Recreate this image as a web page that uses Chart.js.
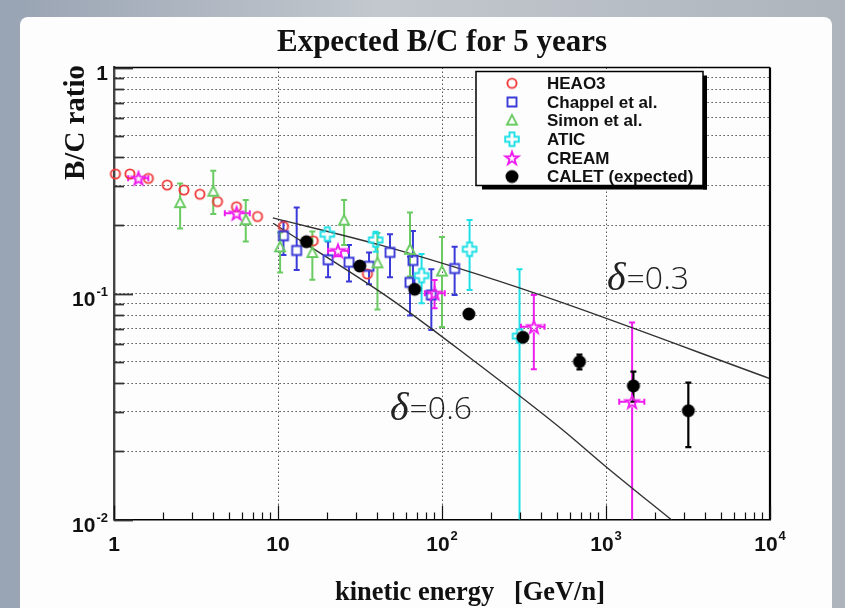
<!DOCTYPE html>
<html><head><meta charset="utf-8">
<script src="https://cdn.jsdelivr.net/npm/chart.js@4/dist/chart.umd.min.js"></script>
<style>html,body{margin:0;padding:0;background:#b6bcc4;}canvas{display:block;}</style>
</head><body>
<canvas id="c" width="845" height="608"></canvas>
<script>
// ---------------- DATA ----------------
const energyHEAO3 = [1.02, 1.25, 1.62, 2.11, 2.67, 3.34, 4.28, 5.58, 7.5, 10.8, 16.4, 35.1];
const ratioHEAO3  = [0.338, 0.338, 0.323, 0.302, 0.287, 0.275, 0.255, 0.242, 0.219, 0.198, 0.171, 0.122];

const energyChappel = [10.8, 13.0, 20.2, 27.1, 35.9, 48.2, 66.5, 63.8, 86.1, 119.4];
const ratioChappel  = [0.180, 0.155, 0.141, 0.1375, 0.132, 0.152, 0.140, 0.112, 0.0985, 0.129];
const lowChappel    = [0.148, 0.127, 0.118, 0.113, 0.110, 0.118, 0.1035, 0.080, 0.069, 0.0985];
const highChappel   = [0.208, 0.240, 0.170, 0.164, 0.152, 0.183, 0.189, 0.1455, 0.128, 0.161];

const energySimon = [2.53, 4.03, 6.36, 10.3, 16.2, 25.3, 40.4, 63.8, 100];
const ratioSimon  = [0.251, 0.282, 0.211, 0.160, 0.151, 0.210, 0.136, 0.156, 0.125];
const lowSimon    = [0.194, 0.225, 0.170, 0.124, 0.115, 0.164, 0.085, 0.119, 0.071];
const highSimon   = [0.307, 0.349, 0.259, 0.186, 0.188, 0.259, 0.185, 0.228, 0.178];

const energyATIC = [20.0, 39.4, 75.1, 147.3, 297];
const ratioATIC  = [0.183, 0.1725, 0.120, 0.157, 0.0648];
const lowATIC    = [0.172, 0.153, 0.0905, 0.1036, 0.001];
const highATIC   = [0.195, 0.1876, 0.1495, 0.2115, 0.128];

const energyCREAM  = [1.41, 5.59, 23.2, 90.1, 363, 1443];
const ratioCREAM   = [0.3235, 0.2264, 0.1546, 0.1002, 0.0713, 0.0332];
const eLowCREAM    = [1.22, 4.74, 20.2, 78.6, 303, 1204];
const eHighCREAM   = [1.62, 6.73, 26.8, 104, 422, 1713];
const lowCREAM     = [0.315, 0.219, 0.146, 0.086, 0.0462, 0.001];
const highCREAM    = [0.332, 0.234, 0.163, 0.1148, 0.0985, 0.0745];

const energyCALET = [14.9, 31.5, 68.1, 145.8, 311, 689, 1469, 3177];
const ratioCALET  = [0.1695, 0.1323, 0.1044, 0.0811, 0.064, 0.0499, 0.039, 0.0303];
const lowCALET    = [null, null, null, null, null, 0.0462, 0.0332, 0.0209];
const highCALET   = [null, null, null, null, null, 0.0536, 0.0451, 0.0403];

const energyDelta03 = [9.3, 41.7, 169.4, 520, 10000];
const ratioDelta03  = [0.216, 0.164, 0.1208, 0.092, 0.042];
const energyDelta06 = [9.34, 48, 154, 545, 1000, 2493, 3162];
const ratioDelta06  = [0.2046, 0.0952, 0.0508, 0.0249, 0.01713, 0.01, 0.0087];

const xTickValues = [1,2,3,4,5,6,7,8,9,10,20,30,40,50,60,70,80,90,100,200,300,400,500,600,700,800,900,
                     1000,2000,3000,4000,5000,6000,7000,8000,9000,10000];
const xGridValues = [1, 10, 100, 1000, 10000];
const yTickValues = [0.01,0.02,0.03,0.04,0.05,0.06,0.07,0.08,0.09,0.1,0.2,0.3,0.4,0.5,0.6,0.7,0.8,0.9,1];
const xLabelValues = [1, 10, 100, 1000, 10000];
const xLabelBase   = ['1', '10', '10', '10', '10'];
const xLabelSup    = ['', '', '2', '3', '4'];
const yLabelValues = [1, 0.1, 0.01];
const yLabelBase   = ['1', '10', '10'];
const yLabelSup    = ['', '-1', '-2'];

const seriesNames = ['HEAO3', 'Chappel et al.', 'Simon et al.', 'ATIC', 'CREAM', 'CALET (expected)'];
const deltaLabels = ['=0.3', '=0.6'];

// ---------------- MARKERS ----------------
function makeMarker(kind, color) {
  const s = 22, c = document.createElement('canvas');
  c.width = s; c.height = s;
  const g = c.getContext('2d'), m = s / 2;
  g.strokeStyle = color; g.fillStyle = color; g.lineWidth = 1.9; g.lineJoin = 'miter';
  g.beginPath();
  if (kind === 'circle') { g.arc(m, m, 4.6, 0, Math.PI * 2); g.stroke(); }
  else if (kind === 'square') { g.rect(m - 4.5, m - 4.5, 9, 9); g.stroke(); }
  else if (kind === 'triangle') { g.moveTo(m, m - 5.6); g.lineTo(m + 5, m + 4); g.lineTo(m - 5, m + 4); g.closePath(); g.stroke(); }
  else if (kind === 'cross') {
    const a = 2.5, L = 6.8;
    const p = [[-a,-L],[a,-L],[a,-a],[L,-a],[L,a],[a,a],[a,L],[-a,L],[-a,a],[-L,a],[-L,-a],[-a,-a]];
    p.forEach((q, i) => i ? g.lineTo(m + q[0], m + q[1]) : g.moveTo(m + q[0], m + q[1]));
    g.closePath(); g.stroke();
  }
  else if (kind === 'star') {
    for (let i = 0; i < 10; i++) {
      const r = i % 2 ? 2.7 : 6.8, ang = -Math.PI / 2 + i * Math.PI / 5;
      const X = m + r * Math.cos(ang), Y = m + 0.6 + r * Math.sin(ang);
      i ? g.lineTo(X, Y) : g.moveTo(X, Y);
    }
    g.closePath(); g.stroke();
  }
  else if (kind === 'dot') { g.arc(m, m, 6.5, 0, Math.PI * 2); g.fill(); }
  return c;
}
const colHEAO3 = '#ef3b3b', colChappel = '#3a3ad8', colSimon = '#6acb62', colATIC = '#1ee0e6', colCREAM = '#ee1cee', colCALET = '#000000';
const markers = [
  makeMarker('circle', colHEAO3), makeMarker('square', colChappel), makeMarker('triangle', colSimon),
  makeMarker('cross', colATIC), makeMarker('star', colCREAM), makeMarker('dot', colCALET)
];

function pts(xa, ya) { return xa.map((x, i) => ({ x: x, y: ya[i] })); }

function markerSet(label, xa, ya, idx, order) {
  return { label: label, data: pts(xa, ya), pointStyle: markers[idx], pointRadius: 5, pointHoverRadius: 5,
           showLine: false, clip: false, order: order, borderColor: 'rgba(0,0,0,0)', backgroundColor: 'rgba(0,0,0,0)' };
}

const errorSets = [
  { ds: 1, color: colChappel, width: 2, gap: 4.5, lo: lowChappel, hi: highChappel },
  { ds: 2, color: colSimon, width: 2, gap: 4.5, lo: lowSimon, hi: highSimon },
  { ds: 3, color: colATIC, width: 2, gap: 6.5, lo: lowATIC, hi: highATIC },
  { ds: 4, color: colCREAM, width: 2, gap: 5.5, lo: lowCREAM, hi: highCREAM, xlo: eLowCREAM, xhi: eHighCREAM },
  { ds: 5, color: colCALET, width: 2.2, gap: 0, lo: lowCALET, hi: highCALET }
];

// ---------------- PLUGINS ----------------
function fitFont(ctx, text, weight, family, targetW) {
  ctx.font = weight + ' 100px ' + family;
  const w = ctx.measureText(text).width;
  return 100 * targetW / w;
}

const bgPlugin = {
  id: 'bg',
  beforeDraw(chart) {
    const ctx = chart.ctx;
    ctx.save();
    const g = ctx.createLinearGradient(0, 0, 845, 0);
    g.addColorStop(0, '#98a3b3'); g.addColorStop(0.45, '#c3c8ce'); g.addColorStop(1, '#aeb4bc');
    ctx.fillStyle = g; ctx.fillRect(0, 0, 845, 608);
    ctx.fillStyle = '#fdfdfd';
    ctx.beginPath();
    if (ctx.roundRect) ctx.roundRect(20, 17, 812, 620, 8); else ctx.rect(20, 17, 812, 620);
    ctx.fill();
    ctx.restore();
  }
};

const errorPlugin = {
  id: 'errbars',
  beforeDatasetsDraw(chart) {
    const ctx = chart.ctx, xs = chart.scales.x, ys = chart.scales.y, a = chart.chartArea;
    ctx.save();
    ctx.beginPath(); ctx.rect(a.left, a.top, a.right - a.left, a.bottom - a.top); ctx.clip();
    errorSets.forEach(s => {
      const data = chart.data.datasets[s.ds].data;
      ctx.strokeStyle = s.color; ctx.lineWidth = s.width;
      const cap = 3;
      data.forEach((p, i) => {
        const px = xs.getPixelForValue(p.x), py = ys.getPixelForValue(p.y);
        ctx.beginPath();
        if (s.hi && s.hi[i] != null) {
          const yt = ys.getPixelForValue(s.hi[i]);
          if (yt < py - s.gap) { ctx.moveTo(px, py - s.gap); ctx.lineTo(px, yt); ctx.moveTo(px - cap, yt); ctx.lineTo(px + cap, yt); }
        }
        if (s.lo && s.lo[i] != null) {
          const yb = Math.min(ys.getPixelForValue(s.lo[i]), a.bottom + 5);
          if (yb > py + s.gap) { ctx.moveTo(px, py + s.gap); ctx.lineTo(px, yb); ctx.moveTo(px - cap, yb); ctx.lineTo(px + cap, yb); }
        }
        if (s.xlo) {
          const xl = xs.getPixelForValue(s.xlo[i]), xr = xs.getPixelForValue(s.xhi[i]);
          ctx.moveTo(px - s.gap, py); ctx.lineTo(xl, py); ctx.moveTo(xl, py - cap); ctx.lineTo(xl, py + cap);
          ctx.moveTo(px + s.gap, py); ctx.lineTo(xr, py); ctx.moveTo(xr, py - cap); ctx.lineTo(xr, py + cap);
        }
        ctx.stroke();
      });
    });
    ctx.restore();
  }
};

const decorPlugin = {
  id: 'decor',
  afterDraw(chart) {
    const ctx = chart.ctx, xs = chart.scales.x, ys = chart.scales.y, a = chart.chartArea;
    ctx.save();
    // frame top & right
    ctx.strokeStyle = '#000'; ctx.lineWidth = 1.6;
    ctx.beginPath(); ctx.moveTo(a.left, a.top); ctx.lineTo(a.right, a.top); ctx.stroke();
    ctx.lineWidth = 2.2;
    ctx.beginPath(); ctx.moveTo(a.right, a.top); ctx.lineTo(a.right, a.bottom); ctx.stroke();
    // x ticks (inward)
    ctx.strokeStyle = '#111'; ctx.lineWidth = 1.2;
    xTickValues.forEach(v => {
      const px = Math.round(xs.getPixelForValue(v)) + 0.5;
      const major = Math.abs(Math.log10(v) - Math.round(Math.log10(v))) < 1e-9;
      ctx.beginPath(); ctx.moveTo(px, a.bottom); ctx.lineTo(px, a.bottom - (major ? 14 : 7)); ctx.stroke();
    });
    // y ticks (inward)
    ctx.strokeStyle = '#333'; ctx.lineWidth = 1.8;
    yTickValues.forEach(v => {
      const py = Math.round(ys.getPixelForValue(v)) + 0.5;
      const major = Math.abs(Math.log10(v) - Math.round(Math.log10(v))) < 1e-9;
      ctx.beginPath(); ctx.moveTo(a.left, py); ctx.lineTo(a.left + (major ? 19 : 10), py); ctx.stroke();
    });
    // tick labels
    const baseFont = 'bold 21px "Liberation Sans", Arial, sans-serif';
    const supFont = 'bold 13px "Liberation Sans", Arial, sans-serif';
    ctx.fillStyle = '#111'; ctx.textBaseline = 'alphabetic';
    xLabelValues.forEach((v, i) => {
      const px = xs.getPixelForValue(v);
      ctx.font = baseFont; const wb = ctx.measureText(xLabelBase[i]).width;
      ctx.font = supFont; const ws = xLabelSup[i] ? ctx.measureText(xLabelSup[i]).width + 1 : 0;
      const x0 = px - (wb + ws) / 2;
      ctx.textAlign = 'left';
      ctx.font = baseFont; ctx.fillText(xLabelBase[i], x0, a.bottom + 31);
      if (xLabelSup[i]) { ctx.font = supFont; ctx.fillText(xLabelSup[i], x0 + wb + 1, a.bottom + 20); }
    });
    yLabelValues.forEach((v, i) => {
      const py = ys.getPixelForValue(v);
      const xr = a.left - 6;
      ctx.font = supFont; const ws = yLabelSup[i] ? ctx.measureText(yLabelSup[i]).width + 1 : 0;
      ctx.textAlign = 'right';
      ctx.font = baseFont; ctx.fillText(yLabelBase[i], xr - ws, py + 12);
      if (yLabelSup[i]) { ctx.font = supFont; ctx.textAlign = 'left'; ctx.fillText(yLabelSup[i], xr - ws + 1, py + 2.5); }
    });
    // titles
    const serif = '"Liberation Serif", "Times New Roman", serif';
    ctx.fillStyle = '#111'; ctx.textAlign = 'center';
    let fs = fitFont(ctx, 'Expected B/C for 5 years', 'bold', serif, 330);
    ctx.font = 'bold ' + fs + 'px ' + serif; ctx.fillText('Expected B/C for 5 years', 442, 51);
    fs = fitFont(ctx, 'kinetic energy   [GeV/n]', 'bold', serif, 270);
    ctx.font = 'bold ' + fs + 'px ' + serif; ctx.fillText('kinetic energy   [GeV/n]', 470, 600);
    fs = fitFont(ctx, 'B/C ratio', 'bold', serif, 115);
    ctx.save(); ctx.translate(84, 122.5); ctx.rotate(-Math.PI / 2);
    ctx.font = 'bold ' + fs + 'px ' + serif; ctx.fillText('B/C ratio', 0, 0); ctx.restore();
    // delta labels: delta glyph + value
    const light = '"Open Sans", "Noto Sans", sans-serif';
    ctx.textAlign = 'left'; ctx.fillStyle = '#222';
    const deltaFont = 'italic 40px "Liberation Serif", serif';
    const valFont = '300 32px ' + light;
    [[607, 290], [390, 420]].forEach((pos, i) => {
      ctx.font = deltaFont; ctx.fillText('δ', pos[0], pos[1]);
      const wd = ctx.measureText('δ').width;
      ctx.font = valFont; ctx.fillText(deltaLabels[i], pos[0] + wd + 1, pos[1] - 1);
    });
    // legend
    const L = { left: 476, top: 71.5, right: 703, bottom: 185.5, sh: 4 };
    ctx.fillStyle = '#000';
    ctx.fillRect(L.right, L.top + 4, L.sh, L.bottom - L.top);
    ctx.fillRect(L.left + 6, L.bottom, L.right - L.left - 6 + L.sh, L.sh);
    ctx.fillStyle = '#fdfdfd'; ctx.fillRect(L.left, L.top, L.right - L.left, L.bottom - L.top);
    ctx.strokeStyle = '#000'; ctx.lineWidth = 1.5; ctx.strokeRect(L.left, L.top, L.right - L.left, L.bottom - L.top);
    ctx.font = 'bold 17px "Liberation Sans", Arial, sans-serif';
    ctx.textBaseline = 'middle'; ctx.fillStyle = '#111';
    seriesNames.forEach((name, i) => {
      const y = 83.3 + i * 18.65;
      const m = markers[i];
      ctx.drawImage(m, 512 - m.width / 2, y - m.height / 2);
      ctx.fillText(name, 547, y + 1);
    });
    ctx.restore();
  }
};

// ---------------- CHART ----------------
const datasets = [
  markerSet(seriesNames[0], energyHEAO3, ratioHEAO3, 0, 5),
  markerSet(seriesNames[1], energyChappel, ratioChappel, 1, 4),
  markerSet(seriesNames[2], energySimon, ratioSimon, 2, 3),
  markerSet(seriesNames[3], energyATIC, ratioATIC, 3, 2),
  markerSet(seriesNames[4], energyCREAM, ratioCREAM, 4, 1),
  markerSet(seriesNames[5], energyCALET, ratioCALET, 5, 0),
  { type: 'line', label: 'delta=0.3', data: pts(energyDelta03, ratioDelta03), showLine: true, borderColor: '#333',
    borderWidth: 1.4, pointRadius: 0, cubicInterpolationMode: 'monotone', fill: false, clip: 0, order: 6 },
  { type: 'line', label: 'delta=0.6', data: pts(energyDelta06, ratioDelta06), showLine: true, borderColor: '#333',
    borderWidth: 1.4, pointRadius: 0, cubicInterpolationMode: 'monotone', fill: false, clip: 0, order: 6 }
];

const gridColor = (edgeVals) => (c) => {
  const v = c.tick && c.tick.value;
  return edgeVals.some(e => Math.abs(v - e) / e < 1e-6) ? 'rgba(0,0,0,0)' : '#555';
};

new Chart(document.getElementById('c'), {
  type: 'scatter',
  data: { datasets: datasets },
  options: {
    responsive: false, animation: false, devicePixelRatio: 1,
    layout: { padding: { left: 114, top: 67.5, right: 75, bottom: 88.5 } },
    plugins: { legend: { display: false }, tooltip: { enabled: false }, title: { display: false } },
    scales: {
      x: {
        type: 'logarithmic', min: 1, max: 10000,
        afterBuildTicks: s => { s.ticks = xGridValues.map(v => ({ value: v })); },
        afterFit: s => { s.height = 0; },
        ticks: { display: false },
        grid: { drawTicks: false, color: gridColor([1, 10000]), lineWidth: 1 },
        border: { display: true, color: '#000', width: 1.6, dash: [1.5, 2.5] }
      },
      y: {
        type: 'logarithmic', min: 0.01, max: 1,
        afterBuildTicks: s => { s.ticks = yTickValues.map(v => ({ value: v })); },
        afterFit: s => { s.width = 0; },
        ticks: { display: false },
        grid: { drawTicks: false, color: gridColor([0.01, 1]), lineWidth: 1 },
        border: { display: true, color: '#444', width: 2.4, dash: [1.5, 2.5] }
      }
    }
  },
  plugins: [bgPlugin, errorPlugin, decorPlugin]
});
</script>
</body></html>
